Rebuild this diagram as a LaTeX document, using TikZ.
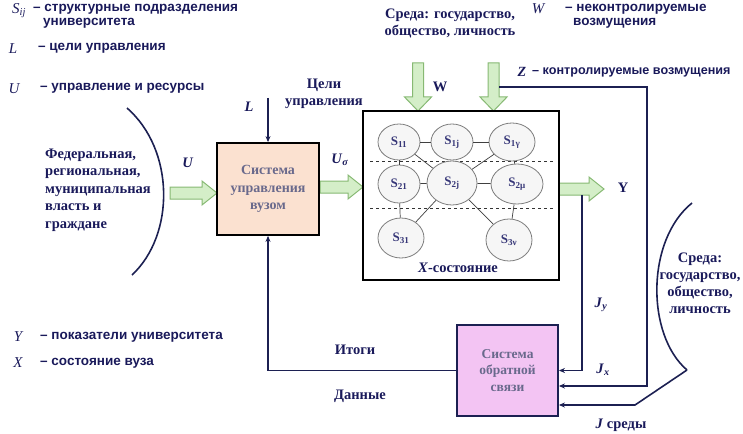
\documentclass[tikz,border=0pt]{standalone}
\usepackage{fontspec}
\setmainfont{Liberation Serif}
\newfontfamily\lsans{Liberation Sans}
\usetikzlibrary{arrows.meta,shapes.geometric,calc}
\definecolor{navy}{RGB}{28,32,82}
\definecolor{txtnavy}{RGB}{25,25,90}
\definecolor{boxtxt}{RGB}{105,105,140}
\definecolor{peach}{RGB}{251,225,208}
\definecolor{pinkfb}{RGB}{243,196,243}
\definecolor{garfill}{RGB}{212,238,200}
\definecolor{gardraw}{RGB}{135,185,115}
\definecolor{ellfill}{RGB}{246,246,246}
\definecolor{elldraw}{RGB}{125,125,125}
\definecolor{elltxt}{RGB}{55,55,120}
\begin{document}
\begin{tikzpicture}[x=1pt,y=-1pt,
 legtxt/.style={font=\lsans\bfseries\fontsize{13.5}{15}\selectfont, text=txtnavy, anchor=west, inner sep=0pt},
 legsym/.style={font=\itshape\fontsize{15}{16}\selectfont, text=txtnavy, inner sep=0pt},
 sertxt/.style={font=\bfseries\fontsize{14.5}{17}\selectfont, text=txtnavy, inner sep=0pt},
 st/.style={ellipse, draw=elldraw, fill=ellfill, line width=0.8pt, inner sep=0pt, font=\bfseries\fontsize{13}{14}\selectfont, text=elltxt},
 conn/.style={draw=navy, line width=1.6pt},
 arr/.style={conn, -{Stealth[length=6pt,width=5pt]}},
 garrow/.style={fill=garfill, draw=gardraw, line width=1pt},
 elink/.style={draw=black!75, line width=0.7pt},
 bigbox/.style={draw=black, line width=1.8pt, inner sep=0pt},
]
\useasboundingbox (0,0) rectangle (743,433);

% legends
\node[legsym] (symS) at (19,11) {S\textsubscript{ij}};
\node[legtxt] (legS1) at (33,9) {– структурные подразделения};
\node[legtxt] (legS2) at (43,23) {университета};
\node[legsym] (symL) at (13,49) {L};
\node[legtxt] (legL) at (38,48) {– цели управления};
\node[legsym] (symU) at (14,89) {U};
\node[legtxt] (legU) at (40,88) {– управление и ресурсы};
\node[legsym] (symW) at (538,9) {W};
\node[legtxt] (legW1) at (565,9) {– неконтролируемые};
\node[legtxt] (legW2) at (573,23) {возмущения};
\node[legsym, font=\bfseries\itshape\fontsize{14}{15}\selectfont] (symZ) at (522,72) {Z};
\node[legtxt, font=\lsans\bfseries\fontsize{12.6}{14}\selectfont] (legZ) at (532,72) {– контролируемые возмущения};
\node[legsym] (symY) at (18,337) {Y};
\node[legtxt] (legY) at (40,337) {– показатели университета};
\node[legsym] (symX) at (18,363) {X};
\node[legtxt] (legX) at (40,363) {– состояние вуза};

% top environment text
\node[sertxt, align=center] (envtop) at (450,23) {Среда: государство,\\общество, личность};

% green block arrows
\draw[garrow] (412.5,63) -- (423.5,63) -- (423.5,97) -- (431.5,97) -- (418,111) -- (404.5,97) -- (412.5,97) -- cycle;
\draw[garrow] (488,63) -- (499,63) -- (499,97) -- (507,97) -- (493.5,111) -- (480,97) -- (488,97) -- cycle;
\draw[garrow] (170,187) -- (202,187) -- (202,181) -- (217,193) -- (202,205) -- (202,199) -- (170,199) -- cycle;
\draw[garrow] (320,181) -- (348,181) -- (348,175) -- (363,187) -- (348,199) -- (348,193) -- (320,193) -- cycle;
\draw[garrow] (559,183) -- (589,183) -- (589,177) -- (604,189) -- (589,201) -- (589,195) -- (559,195) -- cycle;

% boxes
\node[bigbox, fill=peach, minimum width=102pt, minimum height=92pt, align=center,
      font=\bfseries\fontsize{14}{17.5}\selectfont, text=boxtxt] (ctrl) at (268,189) {Система\\управления\\вузом};
\node[bigbox, fill=white, minimum width=196pt, minimum height=169pt] (state) at (461,195.5) {};
\node[bigbox, draw=navy, fill=pinkfb, minimum width=101pt, minimum height=91pt, align=center,
      font=\bfseries\fontsize{13.5}{16.5}\selectfont, text=boxtxt] (fb) at (507.5,370.5) {Система\\обратной\\связи};

% dashed separators
\draw[dashed, black!80, line width=0.8pt] (370,161) -- (555,161);
\draw[dashed, black!80, line width=0.8pt] (370,208) -- (555,208);

% state elements
\node[st, minimum width=42pt, minimum height=36pt] (s11) at (399,142) {S\textsubscript{11}};
\node[st, minimum width=42pt, minimum height=36pt] (s1j) at (452,142) {S\textsubscript{1j}};
\node[st, minimum width=46pt, minimum height=38pt] (s1g) at (512,142) {S\textsubscript{1γ}};
\node[st, minimum width=42pt, minimum height=38pt] (s21) at (399,184) {S\textsubscript{21}};
\node[st, minimum width=50pt, minimum height=44pt] (s2j) at (452,183) {S\textsubscript{2j}};
\node[st, minimum width=52pt, minimum height=40pt] (s2m) at (517,184) {S\textsubscript{2μ}};
\node[st, minimum width=46pt, minimum height=40pt] (s31) at (401,238) {S\textsubscript{31}};
\node[st, minimum width=46pt, minimum height=42pt] (s3v) at (509,240) {S\textsubscript{3ν}};
\draw[elink] (s11) -- (s1j);
\draw[elink] (s1j) -- (s1g);
\draw[elink] (s11) -- (s21);
\draw[elink] (s1g) -- (s2m);
\draw[elink] (s11) -- (s2j);
\draw[elink] (s1g) -- (s2j);
\draw[elink] (s21) -- (s2j);
\draw[elink] (s2j) -- (s2m);
\draw[elink] (s21) -- (s31);
\draw[elink] (s2j) -- (s31);
\draw[elink] (s2j) -- (s3v);
\draw[elink] (s2m) -- (s3v);
\node[sertxt] (xstate) at (458,268) {\textit{X}-состояние};

% arcs
\draw[conn] (127,108) .. controls (175,150) and (175,235) .. (132,275);
\draw[conn] (692,203) .. controls (646,240) and (646,335) .. (687,370);

% left and right texts
\node[sertxt, align=left, anchor=west, font=\bfseries\fontsize{14.5}{17.5}\selectfont] (fed) at (45,190)
  {Федеральная,\\региональная,\\муниципальная\\власть и\\граждане};
\node[sertxt, align=center] (envright) at (700,283) {Среда:\\государство,\\общество,\\личность};

% labels
\node[sertxt] (lblL) at (249,107) {\textit{L}};
\node[sertxt, align=center] (goals) at (324,94) {Цели\\управления};
\node[sertxt] (lblU) at (188,163) {\textit{U}};
\node[sertxt] (lblUs) at (340,160) {\textit{U}\textsubscript{\textit{σ}}};
\node[sertxt] (lblW) at (440,87) {W};
\node[sertxt] (lblY) at (623,188) {Y};
\node[sertxt] (jy) at (601,305) {\textit{J}\textsubscript{\textit{y}}};
\node[sertxt] (jx) at (603,370) {\textit{J}\textsubscript{\textit{x}}};
\node[sertxt] (jsr) at (621,425) {\textit{J} среды};
\node[sertxt] (itogi) at (355,350) {Итоги};
\node[sertxt] (dannye) at (360,396) {Данные};

% connectors
\coordinate (Ltop) at (268,98);
\draw[arr] (Ltop) -- (ctrl.north);
\draw[arr] (fb.west) -| (ctrl.south);
\coordinate (jytop) at (582,195);
\draw[arr] (jytop) |- (fb.east);
\coordinate (zs) at (499,87);
\coordinate (zc) at (647,87);
\draw[arr] (zs) -- (zc) |- ($(fb.east)+(0,15.5)$);
\coordinate (arcb) at (687,370);
\coordinate (jk) at (635,405);
\draw[arr] (arcb) -- (jk) -- (jk -| fb.east);
\end{tikzpicture}
\end{document}
